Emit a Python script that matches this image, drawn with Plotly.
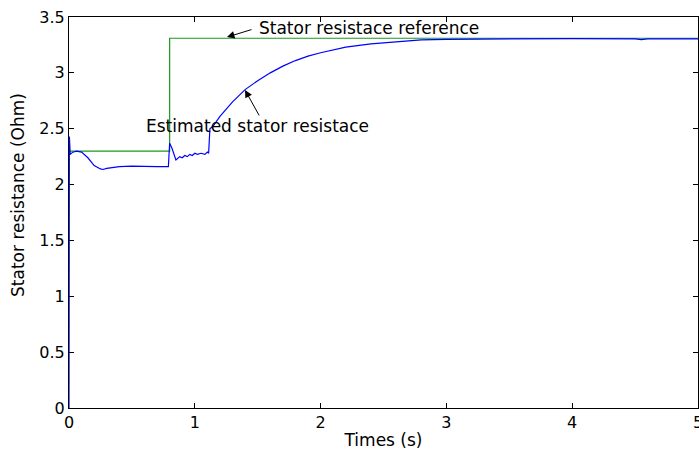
import plotly.graph_objects as go

# Estimated stator resistance (blue)
t_est = [0, 0.003, 0.01, 0.03, 0.06, 0.1, 0.15, 0.2, 0.25, 0.27, 0.3, 0.35, 0.4, 0.5, 0.6, 0.7, 0.79,
         0.8, 0.82, 0.85, 0.88, 0.9, 0.92, 0.94, 0.96, 0.98, 1.0, 1.02, 1.05, 1.08, 1.1, 1.11,
         1.12, 1.15, 1.2, 1.3, 1.4, 1.5, 1.6, 1.7, 1.8, 1.9, 2.0, 2.2, 2.4, 2.6, 2.8, 3.0, 3.5, 4.0,
         4.5, 4.55, 4.6, 5.0]
r_est = [0, 2.43, 2.27, 2.29, 2.30, 2.29, 2.24, 2.17, 2.14, 2.135, 2.145, 2.155, 2.16, 2.165, 2.16, 2.16, 2.16,
         2.37, 2.32, 2.22, 2.25, 2.24, 2.26, 2.25, 2.27, 2.26, 2.28, 2.27, 2.28, 2.27, 2.29, 2.28,
         2.5, 2.53, 2.61, 2.74, 2.85, 2.93, 3.0, 3.06, 3.11, 3.15, 3.18, 3.23, 3.26, 3.28, 3.295, 3.30, 3.305, 3.307,
         3.305, 3.298, 3.305, 3.305]

# Stator resistance reference (green)
t_ref = [0, 0.8, 0.8, 5.0]
r_ref = [2.30, 2.30, 3.31, 3.31]

x_ticks = [0, 1, 2, 3, 4, 5]
y_ticks = [0, 0.5, 1, 1.5, 2, 2.5, 3, 3.5]
y_tick_text = ["0", "0.5", "1", "1.5", "2", "2.5", "3", "3.5"]

FONT = "DejaVu Sans"

fig = go.Figure()
fig.add_trace(go.Scatter(x=t_ref, y=r_ref, mode="lines",
                         line=dict(color="#189a18", width=1.2), showlegend=False))
fig.add_trace(go.Scatter(x=t_est, y=r_est, mode="lines",
                         line=dict(color="#0000ff", width=1.2), showlegend=False))

axis_common = dict(showgrid=False, zeroline=False, showline=True, linecolor="black", linewidth=1,
                   mirror="ticks", ticks="inside", ticklen=5, tickcolor="black", tickwidth=1,
                   layer="below traces", ticklabeloverflow="allow", automargin=False,
                   tickfont=dict(family=FONT, size=16, color="black"))

fig.update_xaxes(range=[0, 5], tickvals=x_ticks, ticktext=[str(v) for v in x_ticks],
                 title=dict(text="Times (s)", font=dict(family=FONT, size=17, color="black"), standoff=2),
                 **axis_common)
fig.update_yaxes(range=[0, 3.5], tickvals=y_ticks, ticktext=y_tick_text, **axis_common)

# Y axis label
fig.add_annotation(text="Stator resistance (Ohm)", xref="paper", yref="paper",
                   x=-0.081, y=0.545, textangle=-90, showarrow=False,
                   font=dict(family=FONT, size=17, color="black"), xanchor="center", yanchor="middle")

# Annotation arrows
fig.add_annotation(x=1.256, y=3.32, ax=26, ay=-8, text="", showarrow=True,
                   arrowhead=2, arrowsize=1.5, arrowwidth=1, arrowcolor="black")
fig.add_annotation(x=1.399, y=2.847, ax=15, ay=27, text="", showarrow=True,
                   arrowhead=2, arrowsize=1.5, arrowwidth=1, arrowcolor="black")

# Annotation texts
fig.add_annotation(x=2.381, y=3.402, text="Stator resistace reference", showarrow=False,
                   font=dict(family=FONT, size=17, color="black"))
fig.add_annotation(x=1.498, y=2.525, text="Estimated stator resistace", showarrow=False,
                   font=dict(family=FONT, size=17, color="black"))

fig.update_layout(width=699, height=452, margin=dict(l=69, r=1, t=17, b=44, autoexpand=False),
                  plot_bgcolor="white", paper_bgcolor="white")

fig.write_html("out.html")
